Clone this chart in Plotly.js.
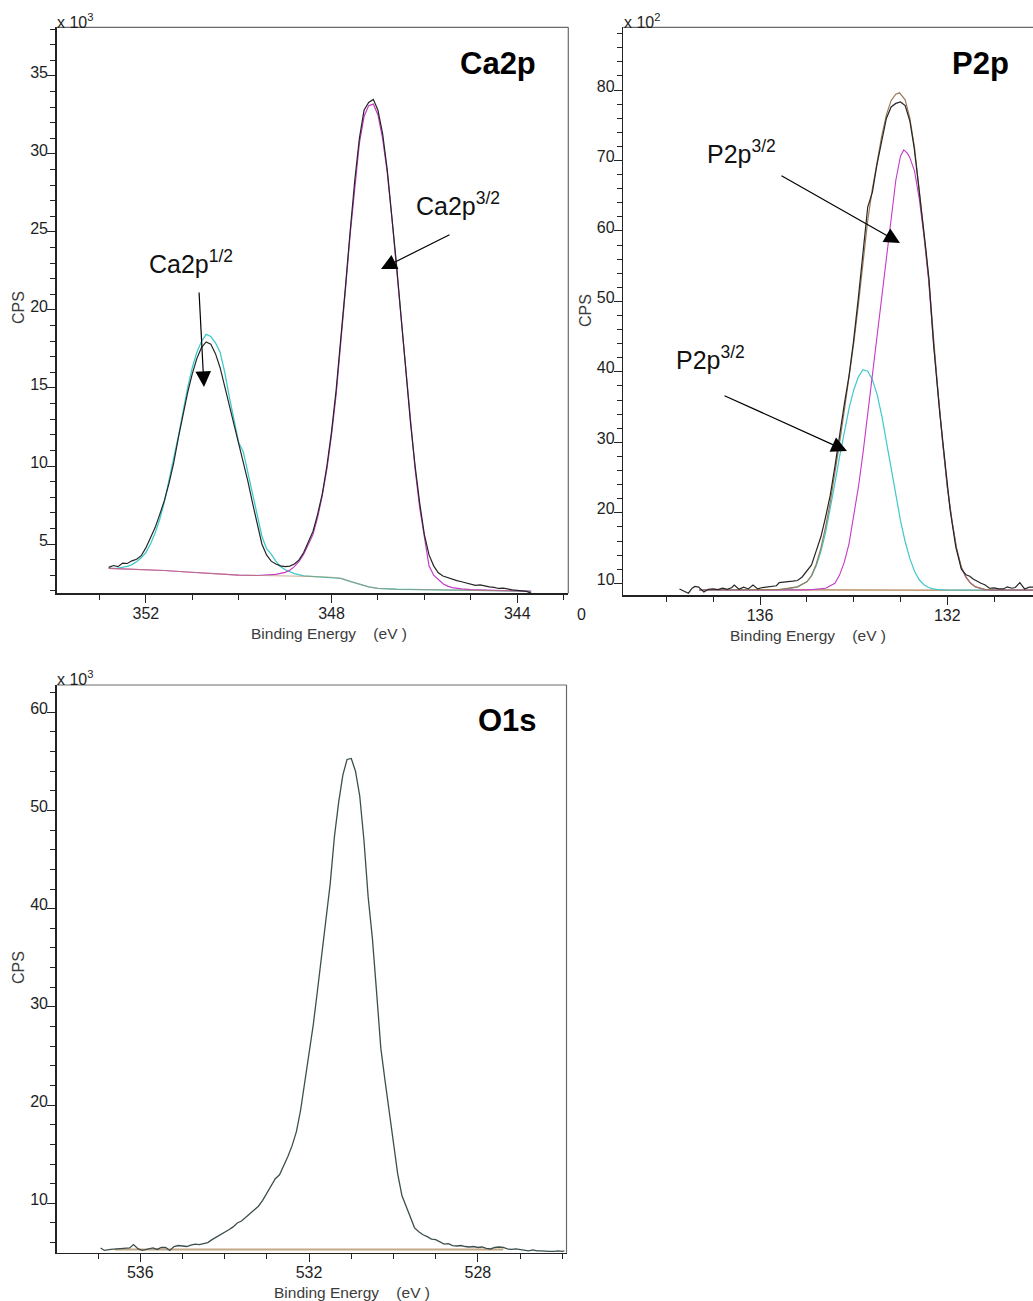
<!DOCTYPE html>
<html><head><meta charset="utf-8">
<script src="https://cdn.plot.ly/plotly-3.0.1.min.js"></script>
<style>body{margin:0;background:#fff}#chart{width:1033px;height:1301px}</style>
</head><body><div id="chart"></div>
<script>
// ---------------- Ca2p ----------------
const caRawX = [352.8,352.7,352.6,352.5,352.4,352.3,352.2,352.1,352.0,351.9,351.8,351.7,351.6,351.5,351.4,351.3,351.2,351.1,351.0,350.9,350.8,350.7,350.6,350.5,350.4,350.3,350.2,350.1,350.0,349.9,349.8,349.7,349.6,349.5,349.4,349.3,349.2,349.1,349.0,348.9,348.8,348.7,348.6,348.5,348.4,348.3,348.2,348.1,348.0,347.9,347.8,347.7,347.6,347.5,347.4,347.3,347.2,347.1,347.0,346.9,346.8,346.7,346.6,346.5,346.4,346.3,346.2,346.1,346.0,345.9,345.8,345.7,345.6,345.5,345.4,345.3,345.2,345.1,345.0,344.9,344.8,344.7,344.6,344.5,344.4,344.3,344.2,344.1,344.0,343.9,343.8,343.7];
const caRawY = [3.50,3.62,3.55,3.78,3.75,3.92,4.02,4.25,4.75,5.35,6.05,6.9,7.8,8.9,10.2,11.8,13.3,14.7,15.9,16.9,17.6,17.95,17.8,17.2,16.3,15.1,13.8,12.6,11.4,10.2,9.0,7.6,6.2,5.0,4.3,3.9,3.72,3.6,3.55,3.58,3.72,3.98,4.45,5.1,5.8,6.9,8.2,10.0,12.2,14.9,18.0,21.5,25.0,28.3,31.0,32.8,33.3,33.5,32.8,31.3,29.0,26.1,22.9,19.5,16.0,12.8,10.0,7.6,5.6,4.3,3.6,3.15,2.95,2.85,2.72,2.65,2.58,2.5,2.47,2.35,2.38,2.3,2.25,2.22,2.15,2.17,2.1,2.06,2.03,1.98,1.96,1.85];
const caCyanX = [352.8,352.6,352.4,352.3,352.2,352.1,352.0,351.9,351.8,351.7,351.6,351.5,351.4,351.3,351.2,351.1,351.0,350.9,350.8,350.7,350.6,350.5,350.4,350.3,350.2,350.1,350.0,349.9,349.8,349.7,349.6,349.5,349.4,349.3,349.2,349.1,349.0,348.9,348.8,348.6,348.4,348.2,348.0,347.8,347.6,347.4,347.2,347.0,346.6,346.0,345.0,344.0,343.7];
const caCyanY = [3.44,3.46,3.56,3.68,3.86,4.12,4.45,5.0,5.7,6.6,7.7,9.0,10.5,11.9,13.5,15.0,16.3,17.3,18.0,18.44,18.3,17.9,17.3,16.0,14.4,12.9,11.5,10.9,9.6,8.2,6.8,5.5,4.7,4.35,3.9,3.55,3.35,3.2,3.1,2.96,2.93,2.9,2.87,2.8,2.6,2.4,2.25,2.16,2.1,2.07,2.03,1.99,1.97];
const caMagX = [352.8,352.4,352.0,351.6,351.2,350.8,350.4,350.0,349.6,349.4,349.2,349.0,348.9,348.8,348.7,348.6,348.5,348.4,348.3,348.2,348.1,348.0,347.9,347.8,347.7,347.6,347.5,347.4,347.3,347.2,347.1,347.0,346.9,346.8,346.7,346.6,346.5,346.4,346.3,346.2,346.1,346.0,345.9,345.8,345.7,345.6,345.5,345.4,345.2,345.0,344.5,344.0,343.7];
const caMagY = [3.44,3.40,3.37,3.3,3.22,3.14,3.05,3.0,2.98,3.0,3.05,3.18,3.32,3.55,3.88,4.35,4.95,5.6,6.7,8.1,9.8,12.0,14.6,17.8,21.3,24.8,28.0,30.7,32.4,33.1,33.2,32.5,31.0,28.8,25.9,22.7,19.3,15.8,12.6,9.8,7.3,5.4,3.6,3.0,2.7,2.45,2.3,2.2,2.12,2.07,2.03,1.99,1.97];
const caBgX = [352.8,352.4,352.0,351.6,351.2,350.8,350.4,350.0,349.5,349.0,348.5,348.0,347.8,347.6,347.4,347.2,347.0,346.6,346.0,345.0,344.0,343.7];
const caBgY = [3.44,3.40,3.37,3.3,3.22,3.14,3.05,3.0,2.98,2.97,2.93,2.87,2.8,2.6,2.4,2.25,2.16,2.1,2.07,2.03,1.99,1.97];

// ---------------- P2p ----------------
const pRawX = [137.72,137.62,137.53,137.45,137.39,137.31,137.2,137.1,137.0,136.9,136.8,136.7,136.6,136.55,136.45,136.35,136.25,136.15,136.05,135.95,135.85,135.75,135.65,135.59,135.5,135.4,135.3,135.2,135.1,135.0,134.9,134.8,134.7,134.6,134.5,134.4,134.3,134.2,134.1,134.0,133.9,133.8,133.7,133.6,133.5,133.4,133.3,133.2,133.1,133.0,132.9,132.8,132.71,132.62,132.54,132.46,132.39,132.29,132.16,132.02,131.94,131.82,131.7,131.6,131.52,131.45,131.37,131.28,131.2,131.1,131.0,130.9,130.8,130.72,130.62,130.55,130.45,130.35,130.25,130.17];
const pRawY = [9.2,8.9,8.6,9.3,9.55,9.45,8.75,9.15,9.2,9.1,9.3,9.15,9.4,9.75,9.15,9.45,9.2,9.75,9.2,9.4,9.45,9.5,9.65,10.1,10.2,10.25,10.3,10.4,10.9,11.8,12.6,14.6,16.6,19.4,22.5,26.6,31.3,35.4,39.4,44.5,50.5,57.0,63.4,65.5,69.5,72.8,76.0,77.6,78.1,78.3,77.8,75.6,71.9,66.8,62.5,57.5,53.0,43.6,34.1,24.7,20.4,15.2,12.0,11.2,11.0,10.6,10.3,10.0,9.8,9.3,9.35,9.2,9.2,9.5,9.3,9.4,10.1,9.2,9.45,9.45];
const pEnvX = [137.3,135.6,135.2,135.0,134.9,134.8,134.7,134.6,134.5,134.4,134.3,134.2,134.1,134.0,133.9,133.8,133.7,133.6,133.5,133.4,133.3,133.2,133.1,133.02,132.9,132.8,132.7,132.6,132.5,132.4,132.3,132.2,132.1,132.0,131.9,131.8,131.7,131.6,131.5,131.4,131.2,131.0,130.17];
const pEnvY = [9.05,9.1,9.5,10.2,11.1,12.7,15.0,18.0,21.5,25.6,30.0,34.5,39.0,44.0,49.5,55.5,61.5,66.0,70.0,73.5,76.5,78.5,79.4,79.6,78.6,76.0,71.8,66.2,59.7,53.5,44.8,37.2,30.1,23.7,18.9,14.9,12.3,10.9,10.0,9.5,9.15,9.05,9.05];
const pCyanX = [137.3,136.0,135.6,135.4,135.2,135.0,134.9,134.8,134.7,134.6,134.5,134.4,134.3,134.2,134.1,134.0,133.9,133.8,133.7,133.6,133.5,133.4,133.3,133.2,133.1,133.0,132.9,132.8,132.7,132.6,132.5,132.4,132.3,132.2,132.0,130.17];
const pCyanY = [9.05,9.05,9.1,9.2,9.5,10.2,11.0,12.5,14.5,17.2,20.5,24.2,28.0,31.6,34.8,37.4,39.3,40.3,40.1,38.9,36.8,33.8,30.2,26.3,22.5,18.9,15.9,13.5,11.7,10.5,9.8,9.4,9.2,9.1,9.05,9.05];
const pMagX = [137.3,135.0,134.6,134.4,134.3,134.2,134.1,134.0,133.9,133.8,133.7,133.6,133.5,133.43,133.35,133.27,133.2,133.1,133.0,132.93,132.85,132.8,132.7,132.6,132.5,132.4,132.3,132.2,132.1,132.0,131.9,131.8,131.7,131.6,131.5,131.4,131.3,131.2,131.0,130.17];
const pMagY = [9.05,9.05,9.3,10.0,11.2,13.0,15.6,19.4,23.6,28.5,34.1,39.3,44.5,48.3,53.0,57.7,61.5,67.2,70.6,71.5,71.0,70.4,68.5,64.6,59.3,53.0,44.5,37.0,30.0,23.6,18.8,14.8,12.2,10.8,10.0,9.5,9.25,9.1,9.05,9.05];
const pBgX = [137.3,133.0,132.6,130.17];
const pBgY = [9.1,9.1,9.0,9.0];

// ---------------- O1s ----------------
const oRawX = [536.94,536.85,536.7,536.55,536.4,536.25,536.16,536.05,535.95,535.8,535.7,535.6,535.5,535.4,535.3,535.2,535.1,535.0,534.9,534.8,534.7,534.6,534.5,534.4,534.3,534.2,534.1,534.0,533.9,533.8,533.7,533.6,533.5,533.4,533.3,533.2,533.1,533.0,532.9,532.8,532.7,532.6,532.5,532.4,532.3,532.2,532.1,532.0,531.9,531.8,531.7,531.6,531.5,531.4,531.3,531.2,531.1,531.0,530.9,530.8,530.7,530.6,530.5,530.4,530.3,530.2,530.1,530.0,529.9,529.8,529.7,529.6,529.5,529.4,529.3,529.2,529.1,529.0,528.9,528.8,528.7,528.6,528.5,528.4,528.3,528.2,528.1,528.0,527.9,527.8,527.7,527.6,527.5,527.4,527.3,527.2,527.1,527.0,526.9,526.8,526.7,526.6,526.5,526.4,526.3,526.2,526.1,526.0,525.95];
const oRawY = [5.45,5.2,5.3,5.35,5.35,5.45,5.8,5.35,5.2,5.35,5.45,5.3,5.5,5.5,5.2,5.6,5.7,5.65,5.6,5.75,5.85,5.8,5.9,6.0,6.3,6.55,6.75,7.0,7.3,7.6,8.0,8.2,8.6,9.0,9.4,9.7,10.3,11.0,11.8,12.5,12.9,13.8,14.8,15.9,17.3,19.5,22.3,25.4,28.2,31.7,35.4,38.8,42.5,47.3,50.8,53.6,55.2,55.3,54.0,51.5,47.0,41.2,37.0,31.5,25.8,22.5,19.3,16.3,13.0,10.8,9.7,8.6,7.5,7.1,6.8,6.6,6.35,6.3,6.05,5.85,5.9,5.7,5.65,5.7,5.6,5.55,5.6,5.5,5.55,5.4,5.35,5.5,5.55,5.5,5.35,5.3,5.35,5.3,5.25,5.15,5.25,5.15,5.15,5.1,5.1,5.1,5.15,5.1,5.15];
const oBgX = [536.6,527.4];
const oBgY = [5.3,5.3];

// ---------------- tick values ----------------
const caYTicks = [5,10,15,20,25,30,35];
const caXTicks = [352,348,344];
const pYTicks = [10,20,30,40,50,60,70,80];
const pXTicks = [136,132];
const oYTicks = [10,20,30,40,50,60];
const oXTicks = [536,532,528];

const W = 1033, H = 1301;
const FONT = 'Liberation Sans, Arial, Helvetica, sans-serif';
const px = v => v / W;
const py = v => 1 - v / H;

const C_RAW = '#262626', C_CYAN = '#3ec9cb', C_MAG = '#c43ac6', C_BG = '#b58a62', C_ENV = '#9c7a58', C_O = '#3d4e4e';

function line(x, y, color, xa, ya, w, op) {
  return {type:'scatter', mode:'lines', x:x, y:y, xaxis:xa, yaxis:ya,
          line:{color:color, width:w||1.2}, opacity: op===undefined?1:op, hoverinfo:'skip', showlegend:false};
}

const traces = [
  line(caCyanX, caCyanY, C_CYAN, 'x', 'y', 1.3),
  line(caMagX, caMagY, C_MAG, 'x', 'y', 1.2),
  line(caBgX, caBgY, C_BG, 'x', 'y', 1.2, 0.6),
  line(caRawX, caRawY, C_RAW, 'x', 'y', 1.2),
  line(pBgX, pBgY, C_BG, 'x2', 'y2', 1.3),
  line(pCyanX, pCyanY, C_CYAN, 'x2', 'y2', 1.2),
  line(pMagX, pMagY, C_MAG, 'x2', 'y2', 1.1),
  line(pEnvX, pEnvY, C_ENV, 'x2', 'y2', 1.2),
  line(pRawX, pRawY, C_RAW, 'x2', 'y2', 1.2),
  line(oBgX, oBgY, '#c4a884', 'x3', 'y3', 2),
  line(oRawX, oRawY, C_O, 'x3', 'y3', 1.3)
];

function axis(extra, minorDtick, isY) {
  return Object.assign({
    showline:true, linecolor:'#222', linewidth:1.5, mirror:false,
    ticks:'outside', ticklen:8, tickwidth:1, tickcolor:'#222',
    showgrid:false, zeroline:false, fixedrange:true,
    ticklabelstandoff: isY ? -4 : -3,
    tickfont:{family:FONT, size:16, color:'#1e1e1e'},
    minor:{ticks:'outside', ticklen:5, tickwidth:1, tickcolor:'#222', dtick:minorDtick, showgrid:false}
  }, isY ? {ticklabelshift:-4} : {}, extra);
}

const layout = {
  width:W, height:H, margin:{l:0, r:0, t:0, b:0},
  paper_bgcolor:'#fff', plot_bgcolor:'#fff', showlegend:false,
  font:{family:FONT, color:'#1e1e1e'},
  xaxis: axis({domain:[px(56.7), px(568.3)], range:[353.92, 342.90], anchor:'y', tickmode:'array', tickvals:caXTicks}, 1, false),
  yaxis: axis({domain:[py(593.3), py(27.3)], range:[1.84, 38.12], anchor:'x', tickmode:'array', tickvals:caYTicks}, 1, true),
  xaxis2: axis({domain:[px(623.3), 1], range:[138.92, 130.17], anchor:'y2', tickmode:'array', tickvals:pXTicks}, 1, false),
  yaxis2: axis({domain:[py(595), py(27.3)], range:[8.34, 88.9], anchor:'x2', tickmode:'array', tickvals:pYTicks}, 2, true),
  xaxis3: axis({domain:[px(56.7), px(566.5)], range:[537.98, 525.9], anchor:'y3', tickmode:'array', tickvals:oXTicks}, 1, false),
  yaxis3: axis({domain:[py(1252.7), py(685)], range:[4.97, 62.78], anchor:'x3', tickmode:'array', tickvals:oYTicks}, 2, true),
  shapes: [
    {type:'line', xref:'x domain', yref:'y domain', x0:0, x1:1, y0:1, y1:1, line:{color:'#6a6a6a', width:1.2}},
    {type:'line', xref:'x domain', yref:'y domain', x0:1, x1:1, y0:0, y1:1, line:{color:'#6a6a6a', width:1.2}},
    {type:'line', xref:'x2 domain', yref:'y2 domain', x0:0, x1:1, y0:1, y1:1, line:{color:'#6a6a6a', width:1.2}},
    {type:'line', xref:'x3 domain', yref:'y3 domain', x0:0, x1:1, y0:1, y1:1, line:{color:'#6a6a6a', width:1.2}},
    {type:'line', xref:'x3 domain', yref:'y3 domain', x0:1, x1:1, y0:0, y1:1, line:{color:'#6a6a6a', width:1.2}}
  ],
  annotations: []
};

const A = layout.annotations;
function txt(t, x, y, size, opts) {
  A.push(Object.assign({xref:'paper', yref:'paper', x:px(x), y:py(y), text:t, showarrow:false,
    xanchor:'left', yanchor:'middle', font:{family:FONT, size:size, color:'#111'}}, opts||{}));
}
function arrow(tx, ty, hx, hy) {
  A.push({xref:'paper', yref:'paper', x:px(hx), y:py(hy), ax:tx-hx, ay:ty-hy, axref:'pixel', ayref:'pixel',
    text:'', showarrow:true, arrowhead:2, arrowsize:2.6, arrowwidth:1.2, arrowcolor:'#000', standoff:0});
}

const MULT = {family:FONT, size:16, color:'#1e1e1e'};
// multiplier labels
txt('x 10<sup>3</sup>', 55, 21, 16, {font:MULT});
txt('x 10<sup>2</sup>', 622, 21, 16, {font:MULT});
txt('x 10<sup>3</sup>', 55, 678, 16, {font:MULT});
// panel titles
txt('<b>Ca2p</b>', 538, 63, 31, {xanchor:'right', font:{family:FONT, size:31, color:'#000'}});
txt('<b>P2p</b>', 1011, 63, 31, {xanchor:'right', font:{family:FONT, size:31, color:'#000'}});
txt('<b>O1s</b>', 539, 720, 31, {xanchor:'right', font:{family:FONT, size:31, color:'#000'}});
// axis titles
const BE = 'Binding Energy\u00a0\u00a0\u00a0\u00a0(eV )';
const TF = {family:FONT, size:15.5, color:'#3c3c3c'};
txt(BE, 249, 633, 15.5, {font:TF});
txt(BE, 728, 635, 15.5, {font:TF});
txt(BE, 272, 1292, 15.5, {font:TF});
txt('CPS', 18, 308, 16, {xanchor:'center', textangle:-90, font:{family:FONT, size:16, color:'#3c3c3c'}});
txt('CPS', 585, 311, 16, {xanchor:'center', textangle:-90, font:{family:FONT, size:16, color:'#3c3c3c'}});
txt('CPS', 18, 968, 16, {xanchor:'center', textangle:-90, font:{family:FONT, size:16, color:'#3c3c3c'}});
// clipped tick label remnant
txt('0', 581.5, 614, 16, {xanchor:'center', font:{family:FONT, size:16, color:'#1e1e1e'}});
// peak labels
txt('Ca2p<sup>1/2</sup>', 147, 262, 25);
txt('Ca2p<sup>3/2</sup>', 414, 204, 25);
txt('P2p<sup>3/2</sup>', 705, 152, 25);
txt('P2p<sup>3/2</sup>', 674, 358, 25);
// arrows
arrow(199, 291, 204, 387);
arrow(451, 234, 381, 269);
arrow(780, 175, 900, 243);
arrow(723, 395, 847, 451);

Plotly.newPlot('chart', traces, layout, {staticPlot:true, displayModeBar:false});
</script>
</body></html>
